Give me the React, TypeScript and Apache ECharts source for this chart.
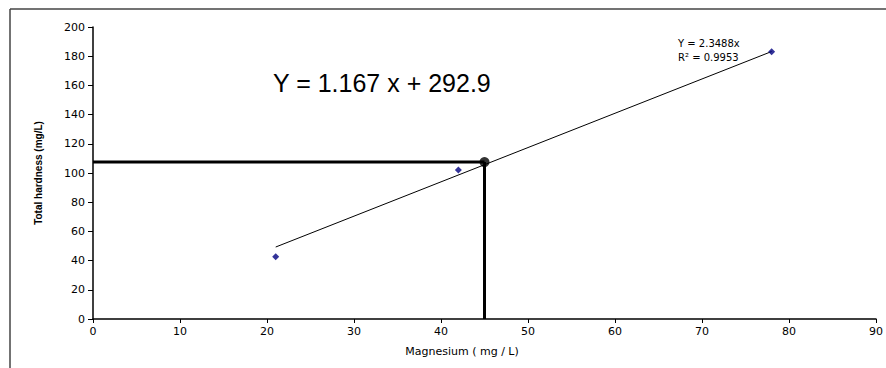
import React, { useEffect, useRef } from "react";
import * as echarts from "echarts";

const samplePoints: [number, number][] = [
  [21, 42.7],
  [42, 102],
  [78, 183],
];
const trendLine: [number, number][] = [
  [21, 49.3],
  [78, 183.2],
];
const guideValue: [number, number] = [45, 107.5];
const horizontalGuide: [number, number][] = [
  [0, 107.5],
  [45, 107.5],
];
const verticalGuide: [number, number][] = [
  [45, 0],
  [45, 107.5],
];
const xTitle = "Magnesium ( mg / L)";
const yTitle = "Total hardness (mg/L)";
const bigEquation = "Y = 1.167 x + 292.9";
const trendEquation = "Y = 2.3488x";
const trendR2 = "R\u00B2 = 0.9953";

export default function App() {
  const ref = useRef<HTMLDivElement>(null);
  useEffect(() => {
    if (!ref.current) return;
    const chart = echarts.init(ref.current, undefined, { renderer: "svg" });
    const axisFont = { fontFamily: "DejaVu Sans", fontSize: 11, color: "#000" };
    chart.setOption({
      animation: false,
      backgroundColor: "#fff",
      grid: { left: 93, top: 27, right: 10, bottom: 49 },
      xAxis: {
        type: "value",
        min: 0,
        max: 90,
        interval: 10,
        name: xTitle,
        nameLocation: "middle",
        nameGap: 27,
        nameTextStyle: {
          fontFamily: "DejaVu Sans",
          fontSize: 11,
          color: "#000",
          padding: [0, 45, 0, 0],
        },
        axisLine: { show: true, lineStyle: { color: "#000", width: 1.5 } },
        axisTick: { show: true, length: 4, lineStyle: { color: "#000", width: 1 } },
        axisLabel: { ...axisFont, margin: 7 },
        splitLine: { show: false },
      },
      yAxis: {
        type: "value",
        min: 0,
        max: 200,
        interval: 20,
        name: yTitle,
        nameLocation: "middle",
        nameGap: 50,
        nameTextStyle: {
          fontFamily: "Liberation Sans",
          fontSize: 10,
          fontWeight: "bold",
          color: "#000",
        },
        axisLine: { show: true, lineStyle: { color: "#000", width: 1.5 } },
        axisTick: { show: true, length: 5, lineStyle: { color: "#000", width: 1 } },
        axisLabel: { ...axisFont, margin: 8 },
        splitLine: { show: false },
      },
      series: [
        {
          type: "line",
          data: trendLine,
          symbol: "none",
          lineStyle: { color: "#000", width: 1 },
          z: 2,
        },
        {
          type: "line",
          data: horizontalGuide,
          symbol: "none",
          lineStyle: { color: "#000", width: 3 },
          z: 3,
        },
        {
          type: "line",
          data: verticalGuide,
          symbol: "none",
          lineStyle: { color: "#000", width: 3 },
          z: 3,
        },
        {
          type: "scatter",
          data: samplePoints,
          symbol: "diamond",
          symbolSize: 7,
          itemStyle: { color: "#000080" },
          z: 4,
        },
        {
          type: "scatter",
          data: [guideValue],
          symbol: "circle",
          symbolSize: 10,
          itemStyle: { color: "#000" },
          z: 5,
        },
      ],
      graphic: [
        {
          type: "line",
          shape: { x1: 10, y1: 9, x2: 886, y2: 9 },
          style: { stroke: "#444", lineWidth: 1.5 },
        },
        {
          type: "line",
          shape: { x1: 10, y1: 9, x2: 10, y2: 368 },
          style: { stroke: "#444", lineWidth: 1.5 },
        },
        {
          type: "text",
          left: 273,
          top: 70,
          style: {
            text: bigEquation,
            fontFamily: "Liberation Sans",
            fontSize: 25,
            fill: "#000",
          },
        },
        {
          type: "text",
          left: 678,
          top: 38,
          style: {
            text: trendEquation,
            fontFamily: "DejaVu Sans",
            fontSize: 10,
            fill: "#000",
          },
        },
        {
          type: "text",
          left: 678,
          top: 52,
          style: {
            text: trendR2,
            fontFamily: "DejaVu Sans",
            fontSize: 10,
            fill: "#000",
          },
        },
      ],
    });
    return () => chart.dispose();
  }, []);
  return (
    <div
      ref={ref}
      style={{ position: "absolute", left: 0, top: 0, width: 886, height: 368 }}
    />
  );
}
